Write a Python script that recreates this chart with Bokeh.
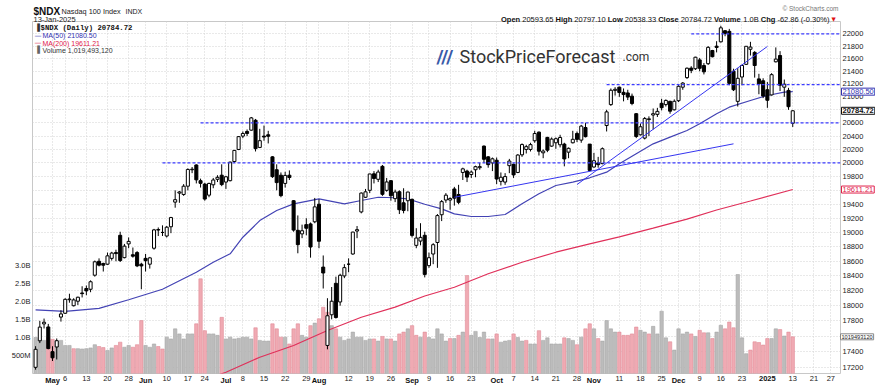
import math
import pandas as pd
from bokeh.plotting import figure
from bokeh.layouts import column
from bokeh.models import (ColumnDataSource, Range1d, LinearAxis, LinearScale, FixedTicker,
                          PrintfTickFormatter, Label)
from bokeh.embed import file_html
from bokeh.resources import INLINE

HOLIDAYS = ["2024-05-27", "2024-06-19", "2024-07-04", "2024-09-02", "2024-11-28",
            "2024-12-25", "2025-01-01", "2025-01-09", "2025-01-20"]
sessions = [d.strftime("%Y-%m-%d") for d in pd.bdate_range("2024-04-25", "2025-01-31")
            if d.strftime("%Y-%m-%d") not in HOLIDAYS]
K = {d: i for i, d in enumerate(sessions)}

opens = [17200, 17540, 17760, 17720, 17400, 17460, 17850,
         17900, 18080, 18000, 18060, 18170, 18230, 18220, 18410, 18600, 18570, 18560, 18640, 18720, 18960, 18650, 18840, 18690, 18720, 18560,
         18640, 18560, 18780, 19040, 19000, 18950, 19080, 19430, 19560, 19540, 19660, 19900, 19970, 19740, 19690, 19530, 19680, 19760, 19820,
         19720, 19740, 20020, 20200, 20400, 20470, 20490, 20640, 20230, 20400, 20420, 20090, 19900, 19820, 19700, 19820, 19450, 19030, 18980, 19110, 19120, 19150,
         19400, 18520, 17480, 17880, 18300, 18050, 18400, 18560, 18700, 19020, 19290, 19500, 19600, 19840, 19760, 19950, 19600, 19740, 19480, 19580, 19420, 19450,
         19470, 18820, 18880, 18960, 18540, 18700, 18860, 19250, 19460, 19460, 19620, 19540, 19860, 19880, 19830, 19900, 19930, 20250, 20090, 20000,
         20040, 19730, 19720, 19960, 19980, 19860, 20120, 20200, 20200, 20330, 20460, 20150, 20380, 20250, 20300, 20270, 20280, 20160, 20300, 20440, 20340, 20530, 20280,
         19940, 20000, 19990, 20560, 20880, 21100, 21150, 21070, 21060, 21010, 20740, 20420, 20370, 20650, 20720, 20730, 20900, 20880, 20930, 20800,
         20940, 21150, 21300, 21450, 21440, 21580, 21490, 21520, 21730, 21800, 21870, 22050, 22040, 21400, 20930, 21310, 21510, 21750, 21700, 21280, 21250,
         21110, 21030, 21550, 21650, 21150, 21100, 20593.65]
highs = [17470, 17800, 17830, 17760, 17470, 17570, 17940,
         18100, 18160, 18100, 18120, 18260, 18270, 18340, 18610, 18640, 18580, 18720, 18730, 18760, 19010, 18840, 18930, 18790, 18740, 18580,
         18700, 18660, 19050, 19070, 19100, 19090, 19220, 19600, 19590, 19690, 19920, 19940, 19980, 19770, 19710, 19710, 19780, 19820, 19980,
         19810, 20020, 20190, 20400, 20470, 20500, 20690, 20660, 20510, 20560, 20480, 20100, 19980, 19860, 19870, 19890, 19460, 19240, 19110, 19200, 19140, 19490,
         19470, 18680, 18100, 18250, 18390, 18430, 18560, 18640, 19010, 19090, 19570, 19620, 19840, 19880, 19900, 19970, 19780, 19750, 19610, 19600, 19630, 19580,
         19480, 19060, 19130, 19010, 18720, 18850, 19260, 19460, 19560, 19500, 19650, 19680, 19930, 19900, 19890, 19960, 20000, 20260, 20100, 20080,
         20080, 19860, 19850, 20060, 19990, 20130, 20290, 20270, 20300, 20480, 20470, 20200, 20390, 20380, 20380, 20420, 20300, 20230, 20480, 20470, 20570, 20600, 20270,
         20150, 20090, 20230, 20800, 21130, 21150, 21160, 21130, 21110, 21050, 20750, 20590, 20690, 20700, 20820, 20830, 20970, 20960, 20940, 20960,
         21180, 21230, 21460, 21480, 21630, 21610, 21530, 21800, 21740, 21880, 22130, 22060, 22080, 21440, 21450, 21500, 21800, 21870, 21720, 21360, 21290,
         21230, 21370, 21780, 21720, 21270, 21140, 20797.10]
lows = [17170, 17510, 17700, 17430, 17280, 17300, 17790,
        17890, 18040, 17990, 18010, 18110, 18140, 18180, 18390, 18530, 18460, 18550, 18610, 18600, 18590, 18640, 18780, 18650, 18520, 18220,
        18460, 18500, 18760, 18950, 18950, 18930, 18990, 19350, 19420, 19520, 19600, 19850, 19700, 19640, 19450, 19500, 19630, 19720, 19660,
        19620, 19730, 20000, 20190, 20370, 20400, 20480, 20170, 20220, 20330, 20290, 19780, 19600, 19500, 19640, 19750, 19010, 18710, 18920, 18960, 18650, 19130,
        18780, 18230, 17430, 17820, 17830, 18000, 18370, 18450, 18690, 18920, 19270, 19490, 19560, 19700, 19720, 19520, 19580, 19450, 19430, 19260, 19270, 19300,
        18930, 18780, 18820, 18380, 18510, 18560, 18510, 19160, 19420, 19320, 19380, 19400, 19750, 19720, 19780, 19790, 19900, 20000, 19930, 19880,
        19690, 19670, 19680, 19850, 19780, 19850, 20090, 20140, 20170, 20300, 20110, 20070, 20160, 20240, 20210, 20230, 19950, 20070, 20290, 20310, 20300, 20380, 19880,
        19930, 19930, 19980, 20470, 20860, 21020, 21000, 20930, 20950, 20870, 20370, 20410, 20350, 20400, 20500, 20690, 20790, 20850, 20740, 20790,
        20920, 21110, 21280, 21370, 21420, 21400, 21350, 21500, 21620, 21700, 21860, 21960, 21180, 21090, 20850, 21180, 21500, 21650, 21300, 21040, 20980,
        20830, 21020, 21540, 21090, 21000, 20800, 20538.33]
closes = [17430, 17718, 17782, 17440, 17321, 17541, 17891,
          18085, 18089, 18077, 18113, 18161, 18198, 18321, 18593, 18547, 18546, 18675, 18713, 18706, 18610, 18809, 18875, 18670, 18537, 18536,
          18608, 18647, 19036, 19034, 19000, 19074, 19210, 19465, 19576, 19660, 19904, 19908, 19752, 19701, 19474, 19700, 19750, 19789, 19683,
          19797, 20012, 20186, 20392, 20439, 20440, 20676, 20212, 20331, 20386, 20398, 19799, 19712, 19523, 19817, 19786, 19033, 18830, 19024, 19059, 18797, 19362,
          18877, 18440, 17867, 18060, 17844, 18409, 18513, 18560, 19005, 19039, 19560, 19578, 19838, 19772, 19866, 19542, 19721, 19522, 19575, 19321, 19310, 19575,
          18959, 18922, 18931, 18421, 18649, 18829, 19238, 19437, 19530, 19481, 19487, 19427, 19913, 19792, 19866, 19945, 19946, 20054, 19975, 20061,
          19764, 19790, 19800, 20028, 19824, 20117, 20273, 20242, 20272, 20439, 20174, 20176, 20189, 20355, 20361, 20379, 20059, 20217, 20352, 20351, 20551, 20392, 19890,
          20033, 19975, 20211, 20768, 21102, 21117, 21068, 21035, 20996, 20897, 20394, 20541, 20666, 20662, 20740, 20776, 20832, 20944, 20779, 20931,
          21164, 21214, 21448, 21415, 21623, 21447, 21391, 21781, 21631, 21780, 22097, 22004, 21210, 21110, 21289, 21492, 21798, 21786, 21491, 21202, 21013,
          20947, 21346, 21593, 21181, 21196, 20847.58, 20784.72]
volumes_b = [1.00, 0.95, 0.92, 1.00, 0.95, 0.90, 0.92,
             0.78, 0.78, 0.69, 0.69, 0.68, 0.69, 0.71, 0.80, 0.75, 0.72, 0.64, 0.71, 0.78, 0.87, 0.73, 0.78, 0.73, 0.80, 1.47,
             0.78, 0.73, 0.82, 0.75, 0.68, 1.01, 0.96, 1.24, 1.10, 0.96, 1.10, 1.10, 1.38, 2.63, 1.19, 1.10, 1.10, 1.06, 1.56,
             0.96, 1.01, 0.96, 0.98, 1.01, 1.01, 0.96, 1.27, 0.92, 0.90, 0.90, 1.38, 1.24, 1.01, 1.01, 0.82, 1.24, 1.38, 1.06, 1.01, 1.33, 1.40,
             1.52, 1.84, 1.70, 1.33, 1.24, 1.01, 0.92, 0.96, 1.15, 1.01, 1.01, 0.92, 0.96, 0.96, 0.90, 1.03, 0.96, 0.96, 0.90, 1.10, 1.15, 1.24,
             1.33, 1.06, 1.01, 1.15, 1.00, 0.96, 1.24, 1.10, 0.90, 0.97, 0.97, 1.06, 1.15, 2.72, 1.06, 1.17, 1.00, 1.15, 0.96, 0.96,
             1.10, 0.87, 0.90, 0.92, 1.10, 1.00, 0.90, 0.92, 0.82, 0.82, 1.19, 0.92, 0.99, 0.82, 0.82, 0.82, 0.99, 0.97, 0.92, 0.80, 1.01, 1.24, 1.38,
             1.24, 0.97, 0.90, 1.47, 1.24, 1.15, 1.15, 1.06, 1.06, 1.10, 1.29, 1.20, 1.15, 1.10, 1.31, 1.10, 1.73, 0.99, 0.88, 0.65,
             1.24, 1.10, 1.15, 1.10, 1.03, 1.20, 1.13, 1.13, 0.97, 1.15, 1.34, 1.24, 1.43, 1.27, 2.75, 0.99, 0.55, 0.65, 0.88, 0.86, 0.79,
             0.97, 0.97, 1.24, 1.22, 1.04, 1.15, 1.019493120]

ma50_dates = ["2024-04-25", "2024-05-06", "2024-05-16", "2024-05-28", "2024-06-07", "2024-06-20", "2024-06-26",
              "2024-07-02", "2024-07-08", "2024-07-12", "2024-07-18", "2024-07-24", "2024-08-01", "2024-08-09",
              "2024-08-15", "2024-08-21", "2024-08-27", "2024-08-30", "2024-09-06", "2024-09-12", "2024-09-17",
              "2024-09-23", "2024-09-27", "2024-10-03", "2024-10-09", "2024-10-15", "2024-10-21", "2024-10-25",
              "2024-10-31", "2024-11-06", "2024-11-11", "2024-11-15", "2024-11-21", "2024-11-27", "2024-12-04",
              "2024-12-09", "2024-12-13", "2024-12-18", "2024-12-26", "2025-01-02", "2025-01-08", "2025-01-13"]
ma50_values = [17945, 17925, 17965, 18080, 18220, 18450, 18587, 18703, 18933, 19167, 19310, 19405, 19477, 19405,
               19453, 19500, 19493, 19477, 19400, 19334, 19263, 19225, 19225, 19253, 19406, 19550, 19670, 19718,
               19782, 19864, 19987, 20135, 20284, 20384, 20485, 20586, 20739, 20840, 20943, 21021, 21072, 21080.50]
ma200_dates = ["2024-06-26", "2024-07-01", "2024-07-12", "2024-07-24", "2024-08-05", "2024-08-15", "2024-08-27",
               "2024-09-06", "2024-09-17", "2024-09-27", "2024-10-09", "2024-10-21", "2024-10-31", "2024-11-11",
               "2024-11-21", "2024-12-04", "2024-12-13", "2024-12-26", "2025-01-13"]
ma200_values = [17080, 17138, 17329, 17479, 17674, 17848, 17981, 18130, 18247, 18429, 18587, 18725, 18841, 18938,
                19061, 19188, 19318, 19446, 19611.21]

level_values = [22000, 21190, 20600, 20000]
level_start = ["2024-12-05", "2024-11-06", "2024-06-21", "2024-06-07"]
trend_start = ["2024-09-17", "2024-10-28"]
trend_start_val = [19500, 19684]
trend_end = ["2024-12-19", "2025-01-02"]
trend_end_val = [20284, 21795]

price_ticks = list(range(17200, 22001, 200))
vol_ticks = [0.5e9, 1.0e9, 1.5e9, 2.0e9, 2.5e9, 3.0e9]
vol_tick_labels = ["500M", "1.0B", "1.5B", "2.0B", "2.5B", "3.0B"]
tick_dates = ["2024-05-01", "2024-05-06", "2024-05-13", "2024-05-20", "2024-05-28", "2024-06-03", "2024-06-10",
              "2024-06-17", "2024-06-24", "2024-07-01", "2024-07-08", "2024-07-15", "2024-07-22", "2024-07-29",
              "2024-08-01", "2024-08-12", "2024-08-19", "2024-08-26", "2024-09-03", "2024-09-09", "2024-09-16",
              "2024-09-23", "2024-10-01", "2024-10-07", "2024-10-14", "2024-10-21", "2024-10-28", "2024-11-01",
              "2024-11-11", "2024-11-18", "2024-11-25", "2024-12-02", "2024-12-09", "2024-12-16", "2024-12-23",
              "2025-01-02", "2025-01-13", "2025-01-21", "2025-01-27"]
tick_labels = ["May", "6", "13", "20", "28", "Jun", "10", "17", "24", "Jul", "8", "15", "22", "29", "Aug", "12",
               "19", "26", "Sep", "9", "16", "23", "Oct", "7", "14", "21", "28", "Nov", "11", "18", "25", "Dec",
               "9", "16", "23", "2025", "13", "21", "27"]
bold_labels = {"May", "Jun", "Jul", "Aug", "Sep", "Oct", "Nov", "Dec", "2025"}

n = len(closes)
assert len(opens) == len(highs) == len(lows) == len(volumes_b) == n == 180
xs = list(range(n))
body_top = [max(o, c) for o, c in zip(opens, closes)]
body_bot = [min(o, c) for o, c in zip(opens, closes)]
body_fill = ["white" if c >= o else "black" for o, c in zip(opens, closes)]
vol = [v * 1e9 for v in volumes_b]
vol_up = [True] + [closes[i] >= closes[i - 1] for i in range(1, n)]
vol_fill = ["#bcbcbc" if u else "#f0aab3" for u in vol_up]
vol_line = ["#a6a6a6" if u else "#e08c97" for u in vol_up]

# ---------- layout ----------
W, H = 875, 385
BL, BR, BT, BB = 32, 35, 21, 12
X0, X1 = -0.73, 190.29
P0, P1 = 17121.7, 22200.5
VMAX = 9.78e9
FW, FH = W - BL - BR, H - BT - BB
PPK = FW / (X1 - X0)
PXLN = FH / math.log(P1 / P0)
VPP = VMAX / FH

p = figure(width=W, height=H, x_range=Range1d(X0, X1), y_range=Range1d(P0, P1),
           y_axis_type="log", y_axis_location="right", output_backend="svg", toolbar_location=None,
           min_border_left=BL, min_border_right=BR, min_border_top=BT, min_border_bottom=BB,
           background_fill_color="white", border_fill_color="white",
           outline_line_color="#c8c8c8", outline_line_width=1, frame_align=False)
p.extra_y_ranges = {"vol": Range1d(0, VMAX)}
p.extra_y_scales = {"vol": LinearScale()}

p.yaxis.ticker = FixedTicker(ticks=price_ticks)
p.yaxis.formatter = PrintfTickFormatter(format="%d")
for ax in [p.yaxis[0], p.xaxis[0]]:
    ax.axis_line_color = None
    ax.major_tick_line_color = None
    ax.minor_tick_line_color = None
    ax.major_tick_out = 0
    ax.major_tick_in = 0
    ax.minor_tick_out = 0
    ax.minor_tick_in = 0
    ax.major_label_text_font = "Liberation Sans"
    ax.major_label_text_font_size = "7.5px"
    ax.major_label_text_color = "#222222"
    ax.major_label_standoff = 2
tick_k = [K[d] for d in tick_dates]
p.xaxis.ticker = FixedTicker(ticks=tick_k)
p.xaxis.major_label_overrides = {k: ("" if lab in bold_labels else lab) for k, lab in zip(tick_k, tick_labels)}

vaxis = LinearAxis(y_range_name="vol", ticker=FixedTicker(ticks=vol_ticks),
                   major_label_overrides={t: l for t, l in zip(vol_ticks, vol_tick_labels)},
                   axis_line_color=None, major_tick_line_color=None, minor_tick_line_color=None,
                   major_tick_out=0, major_tick_in=0, minor_tick_out=0, minor_tick_in=0,
                   major_label_text_font="Liberation Sans", major_label_text_font_size="7.5px",
                   major_label_text_color="#222222", major_label_standoff=2)
p.add_layout(vaxis, "left")

p.xgrid.ticker = FixedTicker(ticks=tick_k)
p.ygrid.ticker = FixedTicker(ticks=price_ticks)
for g in [p.xgrid[0], p.ygrid[0]]:
    g.grid_line_color = "#d2d2d2"
    g.grid_line_dash = "1 2"
    g.grid_line_width = 1

# volume
vsrc = ColumnDataSource(dict(x=xs, top=vol, fill=vol_fill, line=vol_line))
p.vbar(x="x", top="top", bottom=0, width=0.8, source=vsrc, y_range_name="vol",
       fill_color="fill", line_color="line", line_width=0.6)

# moving averages
p.line([K[d] for d in ma200_dates], ma200_values, line_color="#e0305a", line_width=1.2)
p.line([K[d] for d in ma50_dates], ma50_values, line_color="#4343b4", line_width=1.2)

# candles
csrc = ColumnDataSource(dict(x=xs, h=highs, l=lows, top=body_top, bot=body_bot, fill=body_fill))
p.segment(x0="x", y0="h", x1="x", y1="l", source=csrc, line_color="black", line_width=1)
p.vbar(x="x", top="top", bottom="bot", width=0.72, source=csrc, fill_color="fill",
       line_color="black", line_width=1)

# drawn levels and trendlines
p.segment(x0=[K[d] for d in level_start], y0=level_values, x1=[X1] * len(level_values), y1=level_values,
          line_color="#3b3bff", line_width=1.2, line_dash="3 2")
p.segment(x0=[K[d] for d in trend_start], y0=trend_start_val, x1=[K[d] for d in trend_end], y1=trend_end_val,
          line_color="#3535f0", line_width=1)

# ---------- transparent overlay (same page area) for texts outside the plot frame ----------
OX0, OX1 = X0 - BL / PPK, X1 + BR / PPK
OP0, OP1 = P0 * math.exp(-BB / PXLN), P1 * math.exp(BT / PXLN)
ov = figure(width=W, height=H, x_range=Range1d(OX0, OX1), y_range=Range1d(OP0, OP1),
            y_axis_type="log", x_axis_location=None, y_axis_location=None,
            output_backend="svg", toolbar_location=None,
            min_border=0, min_border_left=0, min_border_right=0, min_border_top=0, min_border_bottom=0,
            background_fill_alpha=0, border_fill_alpha=0, outline_line_color=None,
            frame_align=False, margin=(-H, 0, 0, 0))
ov.grid.visible = False
ov.extra_y_ranges = {"vol": Range1d(-BB * VPP, VMAX + BT * VPP)}
ov.extra_y_scales = {"vol": LinearScale()}

def kx(px):
    return OX0 + px / PPK

def py(pg):
    return OP1 * math.exp(-pg / PXLN)

def lab(x_page, y_page, text, size="8px", style="normal", color="#111111", font="Liberation Sans",
        align="left", baseline="alphabetic"):
    ov.add_layout(Label(x=kx(x_page), y=py(y_page), text=text, text_font=font, text_font_size=size,
                        text_font_style=style, text_color=color, text_align=align, text_baseline=baseline))

# bold month labels under the axis
for k, t in zip(tick_k, tick_labels):
    if t in bold_labels:
        ov.add_layout(Label(x=k, y=py(BT + FH + 2), text=t, text_align="center", text_baseline="top",
                            text_font="Liberation Sans", text_font_size="7.5px", text_font_style="bold",
                            text_color="#111111"))

# header
lab(33, 11, "$NDX", size="10px", style="bold")
lab(61, 11, "Nasdaq 100 Index", size="7.3px", color="#222222")
lab(125, 11, "INDX", size="7px", color="#222222")
lab(33, 18.5, "13-Jan-2025", size="7.5px", color="#222222")
lab(838, 8, "\u00a9 StockCharts.com", size="6.5px", color="#777777", align="right")

W_N = {c: 556 for c in "0123456789"}
W_N.update({'.': 278, ' ': 278, '-': 333, '(': 333, ')': 333, '%': 889, 'B': 667})
W_B = {'O': 778, 'p': 611, 'e': 556, 'n': 611, 'H': 722, 'i': 278, 'g': 611, 'h': 611, 'L': 611, 'o': 611,
       'w': 778, 'C': 722, 'l': 278, 's': 556, 'V': 667, 'u': 611, 'm': 889, ' ': 278}
FS = 7.5
SP = 278 * FS / 1000.0

def tw(s, bold):
    tab = W_B if bold else W_N
    return sum(tab.get(ch, 556) for ch in s) * FS / 1000.0

chg = closes[-1] - closes[-2]
pieces = [("Open", True), ("%.2f" % opens[-1], False), ("High", True), ("%.2f" % highs[-1], False),
          ("Low", True), ("%.2f" % lows[-1], False), ("Close", True), ("%.2f" % closes[-1], False),
          ("Volume", True), ("%.1fB" % volumes_b[-1], False), ("Chg", True),
          ("%.2f (%.2f%%)" % (chg, chg / closes[-2] * 100), False)]
total = sum(tw(s, b) for s, b in pieces) + SP * (len(pieces) - 1)
xcur = 829 - total
for s, b in pieces:
    lab(xcur, 18.5, s, size="%.1fpx" % FS, style="bold" if b else "normal", color="#111111")
    xcur += tw(s, b) + SP
lab(xcur, 18, "\u25bc", size="5.5px", color="#e01010", font="DejaVu Sans")

# legend
lab(34, 27.5, "\u2590", size="7px", color="#333333", font="DejaVu Sans")
lab(40, 27.5, "$NDX (Daily) %.2f" % closes[-1], size="7.3px", color="#111111", font="Liberation Mono", style="bold")
lab(34, 35, "\u2014", size="7px", color="#3030b0", font="DejaVu Sans")
lab(42, 35, "MA(50) %.2f" % ma50_values[-1], size="7px", color="#3030b0")
lab(34, 42.5, "\u2014", size="7px", color="#e0204a", font="DejaVu Sans")
lab(42, 42.5, "MA(200) %.2f" % ma200_values[-1], size="7px", color="#e0204a")
lab(34, 49.5, "\u2590", size="7px", color="#666666", font="DejaVu Sans")
lab(42, 49.5, "Volume {:,}".format(int(round(volumes_b[-1] * 1e9))), size="7px", color="#333333")

# watermark
lab(436, 56, "///", size="19px", style="bold", color="#3a5aa8", font="Roboto")
lab(459, 56, "StockPriceForecast", size="18px", color="#333333", font="Roboto")
lab(622, 56, ".com", size="12px", color="#333333", font="Roboto")

# right-side value boxes
def vbox(yval, text, color, tcolor=None, style="normal", rng=None, size="7.5px", xpage=841):
    kw = dict(x=kx(xpage), y=yval, text=text, text_font="Liberation Sans", text_font_size=size,
              text_color=tcolor or color, text_font_style=style, text_align="left", text_baseline="middle",
              background_fill_color="white", border_line_color=color, border_line_width=1, padding=1)
    if rng:
        kw["y_range_name"] = rng
    ov.add_layout(Label(**kw))

vbox(ma50_values[-1], "%.2f" % ma50_values[-1], "#3030b0")
vbox(closes[-1], "%.2f" % closes[-1], "#111111", style="bold")
vbox(ma200_values[-1], "%.2f" % ma200_values[-1], "#e0204a")
vbox(volumes_b[-1] * 1e9, "%d" % int(round(volumes_b[-1] * 1e9)), "#888888", tcolor="#222222",
     rng="vol", size="5.6px", xpage=840)

layout = column(p, ov, spacing=0)
open("out.html", "w").write(file_html(layout, INLINE))
